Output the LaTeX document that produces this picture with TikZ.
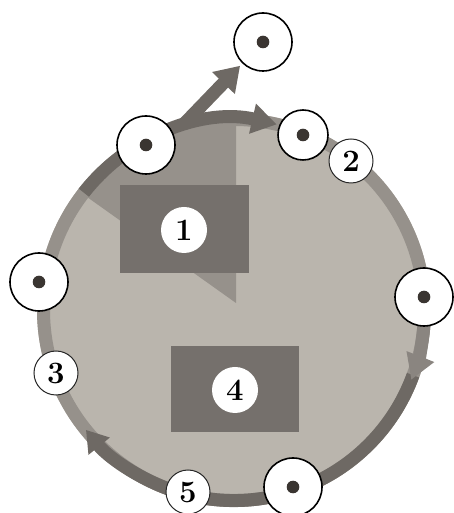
\documentclass[tikz,border=0pt]{standalone}
\usetikzlibrary{arrows.meta,calc}
\definecolor{lightc}{RGB}{186,181,173}
\definecolor{midc}{RGB}{150,145,139}
\definecolor{midarrow}{RGB}{138,133,128}
\definecolor{darkc}{RGB}{110,105,100}
\definecolor{rectc}{RGB}{117,112,108}
\definecolor{dotc}{RGB}{58,53,49}
\newcommand{\digitlabel}[1]{\scalebox{1.25}{\fontsize{24.88}{28}\selectfont\bfseries #1}}
\tikzset{
  dotnode/.style={circle, draw=black, line width=1.6pt, fill=white, minimum size=58pt, inner sep=0pt},
  numnode/.style={circle, draw=black!85, line width=1pt, fill=white, minimum size=44pt, inner sep=0pt},
  innernum/.style={circle, fill=white, minimum size=46pt, inner sep=0pt},
  band/.style={line width=13pt}
}
\begin{document}
\begin{tikzpicture}[x=1pt,y=1pt]
\useasboundingbox (0,0) rectangle (454,513);
\coordinate (C) at (234,203);
% disc
\fill[lightc] (C) circle (197);
% darker wedge
\begin{scope}
  \clip (C) circle (197);
  \fill[midc] (236,210) -- (236,610) -- (-90,610) -- (-90,442) -- cycle;
\end{scope}
% rim band
\draw[midc, band] (C) circle (190.5);
% dark arcs
\draw[darkc, band, -{Triangle[length=25pt,width=29pt]}] ($(C)+(142:190.5)$) arc[start angle=142, end angle=77, radius=190.5];
\draw[darkc, band, -{Triangle[length=21pt,width=26pt]}] ($(C)+(-20:190.5)$) arc[start angle=-20, end angle=-141, radius=190.5];
\draw[midarrow, band, -{Triangle[length=25pt,width=28pt]}] ($(C)+(-4:190.5)$) arc[start angle=-4, end angle=-21.5, radius=190.5];
% rectangles
\fill[rectc] (120,240) rectangle (249,328);
\fill[rectc] (171,81) rectangle (299,167);
% nodes
\node[dotnode] (T) at (263,471) {};
\node[dotnode] (TL) at (146,368) {};
\node[dotnode, minimum size=50pt] (N2) at (303,378) {};
\node[dotnode] (L) at (39,231) {};
\node[dotnode] (R) at (424,216) {};
\node[dotnode] (B) at (293,26) {};
\foreach \n in {T,TL,N2,L,R,B} \fill[dotc] (\n) circle (6.3);
% branch arrow
\coordinate (bs) at (183,388);
\draw[darkc, band, -{Triangle[length=24pt,width=30pt]}] (bs) -- ($(T)!33pt!(bs)$);
% number circles
\node[numnode] (n2) at (351,352) {\digitlabel{2}};
\node[numnode] (n3) at (56,140) {\digitlabel{3}};
\node[numnode] (n5) at (188,21) {\digitlabel{5}};
\node[innernum] (n1) at (184,283) {\digitlabel{1}};
\node[innernum] (n4) at (235,123) {\digitlabel{4}};
\end{tikzpicture}
\end{document}
